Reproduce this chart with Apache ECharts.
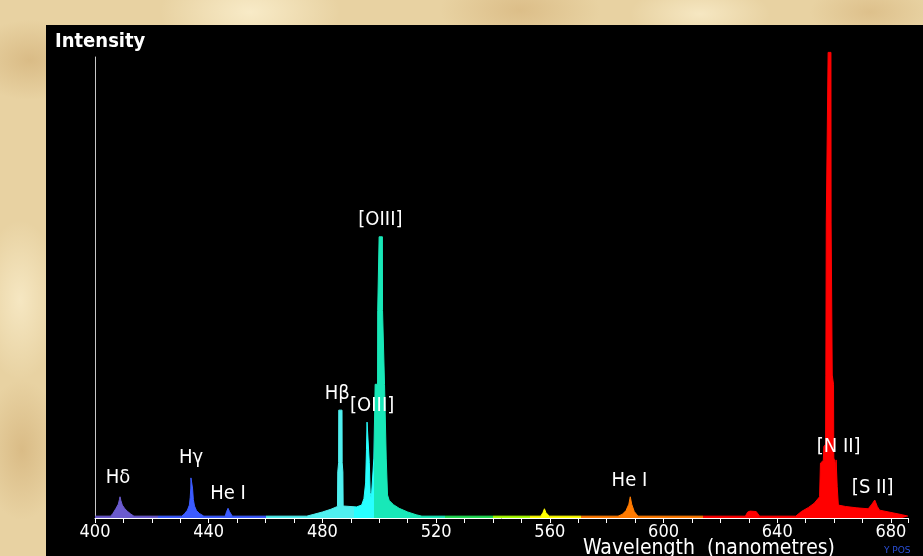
<!DOCTYPE html>
<html>
<head>
<meta charset="utf-8">
<script src="https://cdn.jsdelivr.net/npm/echarts@6/dist/echarts.min.js"></script>
<style>
html,body{margin:0;padding:0;width:923px;height:556px;overflow:hidden;}
body{
  background-color:#e8d2a2;
  background-image:
    radial-gradient(ellipse 60px 40px at 30px 60px, rgba(200,160,100,.45), transparent),
    radial-gradient(ellipse 90px 50px at 250px 12px, rgba(255,245,215,.7), transparent),
    radial-gradient(ellipse 80px 40px at 520px 10px, rgba(205,165,105,.45), transparent),
    radial-gradient(ellipse 70px 30px at 700px 14px, rgba(255,245,215,.6), transparent),
    radial-gradient(ellipse 40px 80px at 20px 300px, rgba(255,245,215,.6), transparent),
    radial-gradient(ellipse 40px 70px at 22px 450px, rgba(200,160,100,.45), transparent),
    radial-gradient(ellipse 60px 30px at 870px 12px, rgba(205,165,105,.4), transparent);
}
#panel{position:absolute;left:46px;top:25px;width:877px;height:531px;background:#000;}
#chart{position:absolute;left:0;top:0;width:923px;height:556px;}
</style>
</head>
<body>
<div id="panel"></div>
<div id="chart"></div>
<script>
// Spectrum samples (wavelength in nm, relative intensity)
const wavelength = [
  400,
  405.5,406.3,407.3,408.2,408.6,408.8,409.1,409.6,410.5,411.5,412.5,413.7,
  430.5,431.5,432.5,433.2,433.5,433.7,433.75,434.2,434.3,434.6,435.0,435.7,436.7,438.3,
  445.8,446.3,446.8,447.3,448.3,
  474.5,477,480,483,485.3,485.4,485.7,485.75,486.9,486.95,487.2,487.3,488,492,493.8,494.6,495.2,495.5,495.7,496.3,496.5,496.8,497.2,497.9,
  498.1,498.5,498.55,499.4,499.45,499.9,499.95,501.1,501.15,501.8,501.85,502.4,502.45,502.7,502.9,503.5,505,507,510,513,515,
  556.8,557.6,558.1,558.6,559.8,
  584,585.5,586.8,587.8,588.3,588.8,589.7,591,
  628.8,629.6,630.5,632.6,633.8,
  646.5,648.5,651,653,654.9,655.2,656.2,656.4,657.0,657.1,657.2,657.25,657.85,657.9,658.9,658.95,659.3,659.35,659.8,659.9,660.4,660.6,660.7,661.0,661.1,661.5,
  664,668,672,673.3,674.3,675.2,676,680,684,686
];
const intensity = [
  0.4,
  0.4,1.0,2.0,3.0,4.0,4.6,3.8,2.8,2.0,1.4,0.9,0.4,
  0.4,0.9,1.7,2.8,4.5,6.5,8.7,8.7,6.5,4.0,2.6,1.6,1.0,0.4,
  0.4,1.4,2.1,1.4,0.4,
  0.4,0.8,1.3,1.9,2.5,10,12,23.4,23.4,12,10,2.6,2.4,2.4,2.8,4.2,7.6,14.8,20.8,20.8,12,5.5,4.3,4.5,
  13,13,29,29,45,45,61,61,45,45,29,29,13,13,5,3.8,2.9,2.1,1.3,0.7,0.4,
  0.4,1.2,2.0,1.2,0.4,
  0.4,0.8,1.6,3.0,4.6,3.0,1.4,0.4,
  0.4,1.3,1.5,1.4,0.4,
  0.4,1.4,2.3,3.2,4.6,11.9,12.5,15.5,16,31,31,64,64,101,101,64,64,31,29,13,12,6.8,12.6,12.6,6.8,2.8,
  2.5,2.2,2.0,3.0,3.9,2.5,1.7,1.2,0.7,0.4
];
// Emission line annotations
const lineNames = ['H\u03b4','H\u03b3','He I','H\u03b2','[OIII]','[OIII]','He I','H\u03b1','[N II]','[S II]'];
const lineLabelX = [408.1,433.8,446.8,485.2,497.5,500.4,588.0,658.8,661.6,673.6];
const lineLabelY = [8.7,13.0,5.2,26.9,24.3,64.6,8.0,103.7,15.4,6.5];
// Spectrum colour bands (nm)
const bandStart = [400,422,460,491,498.2,523,540,553,571,614];
const bandEnd   = [422,460,491,498.2,523,540,553,571,614,690];
const bandColor = ['#6a5acd','#3b5bff','#4ff0f0','#28ffff','#18e8b8','#22dd55','#aaff00','#ffff00','#ff7a00','#ff0000'];
const xTicks = [400,440,480,520,560,600,640,680];

const spectrum = wavelength.map((w,i)=>[w,intensity[i]]);
const labels = lineNames.map((n,i)=>({name:n,value:[lineLabelX[i],lineLabelY[i]]}));
const FONT = '"DejaVu Sans Condensed","DejaVu Sans",sans-serif';

const chart = echarts.init(document.getElementById('chart'), null, {renderer:'canvas'});
chart.setOption({
  backgroundColor:'transparent',
  animation:false,
  grid:{left:95,right:15,top:57,bottom:38},
  title:[
    {text:'Intensity',left:55,top:32,padding:0,textStyle:{color:'#ffffff',fontFamily:FONT,fontWeight:'bold',fontSize:20}},
    {text:'Wavelength  (nanometres)',left:583,top:538,padding:0,textStyle:{color:'#ffffff',fontFamily:FONT,fontWeight:'normal',fontSize:21}}
  ],
  graphic:[{type:'text',left:884,top:546,style:{text:'Y POS',fill:'#2a4fd8',font:'9px "DejaVu Sans"'}}],
  visualMap:{
    type:'piecewise',show:false,dimension:0,seriesIndex:0,
    pieces:bandStart.map((s,i)=>({gte:s,lt:bandEnd[i],color:bandColor[i]})),
    outOfRange:{color:'#ff0000'}
  },
  xAxis:{
    type:'value',min:400,max:686,interval:10,
    axisLine:{show:true,lineStyle:{color:'#ffffff',width:1}},
    axisTick:{show:true,length:5,lineStyle:{color:'#ffffff'}},
    axisLabel:{color:'#ffffff',fontFamily:FONT,fontSize:18,margin:5,
      formatter:v=>xTicks.indexOf(v)>=0?String(v):''},
    splitLine:{show:false}
  },
  yAxis:{
    type:'value',min:0,max:100,
    axisLine:{show:true,lineStyle:{color:'#c8c8c8',width:1}},
    axisTick:{show:false},axisLabel:{show:false},splitLine:{show:false}
  },
  series:[
    {type:'line',data:spectrum,symbol:'none',clip:false,
     lineStyle:{width:1},areaStyle:{opacity:1},z:2},
    {type:'scatter',data:labels,symbolSize:1,z:5,
     itemStyle:{color:'rgba(0,0,0,0)',opacity:1},
     emphasis:{disabled:true},
     label:{show:true,position:'inside',formatter:p=>p.name,color:'#ffffff',opacity:1,
       fontFamily:FONT,fontSize:20}}
  ]
});
</script>
</body>
</html>
